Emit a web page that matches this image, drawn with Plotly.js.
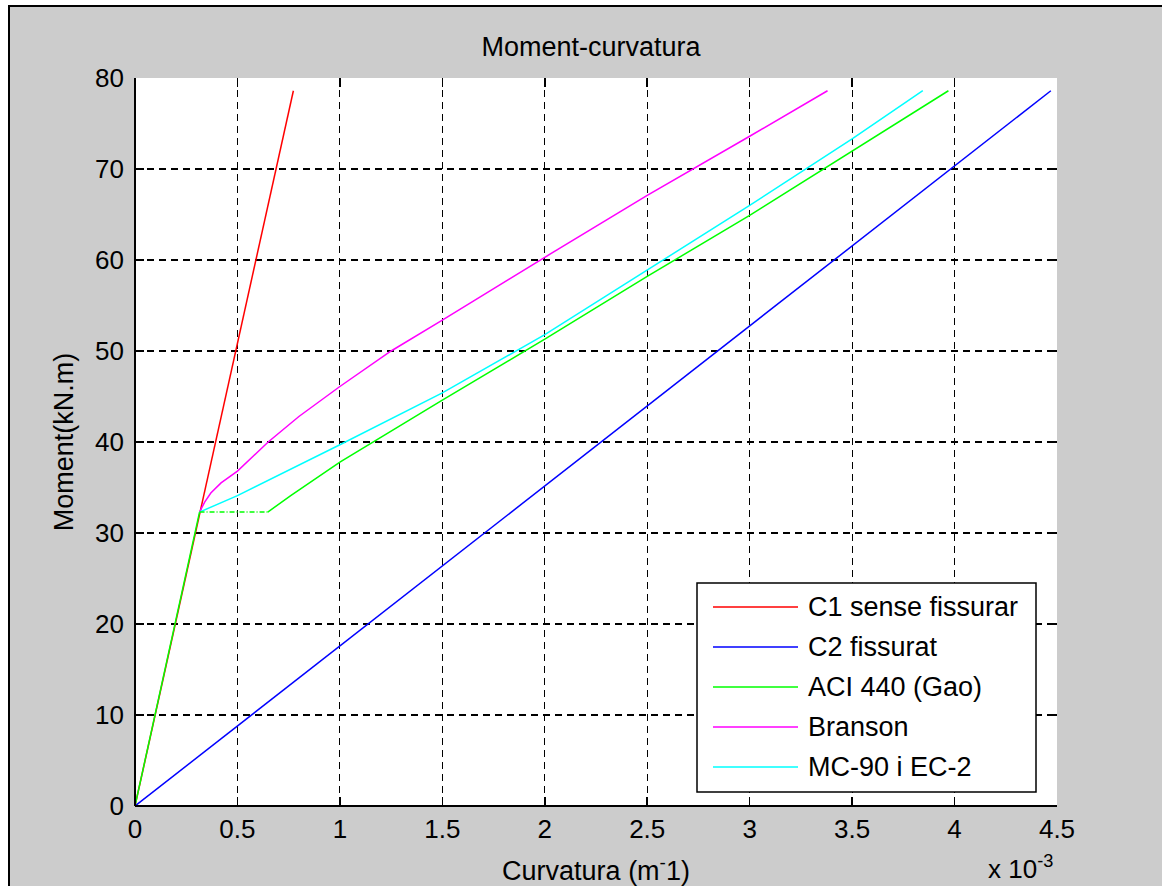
<!DOCTYPE html>
<html><head><meta charset="utf-8">
<script src="https://cdn.plot.ly/plotly-3.0.1.min.js"></script>
<style>
html,body{margin:0;padding:0;background:#fff;overflow:hidden;width:1162px;height:886px;}
#chart{position:absolute;left:8px;top:5px;width:1152px;height:879px;border-top:2px solid #000;border-left:2px solid #000;}
</style></head><body><div id="chart"></div>
<script>
// Curvature in units of 1e-3 m^-1, moment in kN.m
const seriesNames = ['C1 sense fissurar', 'C2 fissurat', 'ACI 440 (Gao)', 'Branson', 'MC-90 i EC-2'];
const seriesColors = ['#ff0000', '#0000ff', '#00ff00', '#ff00ff', '#00ffff'];

const c1X = [0, 0.773];
const c1Y = [0, 78.6];

const c2X = [0, 4.47];
const c2Y = [0, 78.6];

const aciX = [0, 0.315, null, 0.648, 0.76, 1.0, 1.5, 2.0, 2.5, 3.0, 3.5, 3.97];
const aciY = [0, 32.3, null, 32.3, 34.1, 37.8, 44.6, 51.3, 58.2, 64.9, 72.0, 78.6];
const aciFlatX = [0.315, 0.648];
const aciFlatY = [32.3, 32.3];

const bransonX = [0.315, 0.34, 0.37, 0.42, 0.5, 0.65, 0.8, 1.0, 1.25, 1.5, 2.0, 2.5, 3.0, 3.38];
const bransonY = [32.3, 33.4, 34.4, 35.5, 36.8, 40.0, 42.8, 46.1, 50.0, 53.4, 60.3, 67.1, 73.6, 78.6];

const mcX = [0.315, 0.5, 1.0, 1.5, 2.0, 2.5, 3.0, 3.5, 3.845];
const mcY = [32.3, 34.1, 39.7, 45.4, 51.8, 58.9, 66.0, 73.3, 78.6];

const xTickVals = [0, 0.5, 1, 1.5, 2, 2.5, 3, 3.5, 4, 4.5];
const yTickVals = [0, 10, 20, 30, 40, 50, 60, 70, 80];

const FONT = 'Liberation Sans, Arial, sans-serif';
const LW = 1.5;

function tr(x, y, i, extra) {
  return Object.assign({
    x: x, y: y, type: 'scatter', mode: 'lines', name: seriesNames[i],
    line: {color: seriesColors[i], width: LW}, connectgaps: false, hoverinfo: 'skip'
  }, extra || {});
}

const traces = [
  tr(c1X, c1Y, 0),
  tr(c2X, c2Y, 1),
  tr(aciX, aciY, 2),
  tr(bransonX, bransonY, 3),
  tr(mcX, mcY, 4),
  tr(aciFlatX, aciFlatY, 2, {line: {color: seriesColors[2], width: LW, dash: '5px,2px,1px,2px'}, showlegend: false})
];

// pixel -> paper helpers (plot area 135..1057 x, 78..806 y in page pixels)
const PL = 135, PR = 1057, PT = 78, PB = 806;
const px = v => (v - PL) / (PR - PL);
const py = v => (PB - v) / (PB - PT);

const shapes = [
  {type: 'line', xref: 'paper', yref: 'paper', x0: 0, x1: 0, y0: 0, y1: 1, line: {color: '#000', width: 2}},
  {type: 'line', xref: 'paper', yref: 'paper', x0: 0, x1: 1, y0: 0, y1: 0, line: {color: '#000', width: 2}},
  {type: 'rect', xref: 'paper', yref: 'paper', x0: px(697), x1: px(1036), y0: py(792), y1: py(583),
   fillcolor: '#fff', line: {color: '#000', width: 1.5}}
];
const annotations = [
  {xref: 'paper', yref: 'paper', x: px(1020), y: py(868), xanchor: 'center', yanchor: 'middle',
   text: 'x 10<sup>-3</sup>', showarrow: false, font: {family: FONT, size: 26, color: '#000'}}
];
seriesNames.forEach((n, i) => {
  const yc = 607 + i * 40;
  shapes.push({type: 'line', xref: 'paper', yref: 'paper', x0: px(713), x1: px(798), y0: py(yc), y1: py(yc),
    line: {color: seriesColors[i], width: LW}});
  annotations.push({xref: 'paper', yref: 'paper', x: px(806), y: py(yc), xanchor: 'left', yanchor: 'middle',
    text: n, showarrow: false, font: {family: FONT, size: 27, color: '#000'}});
});

const axisCommon = {
  ticks: 'inside', ticklen: 9, tickwidth: 1.5, tickcolor: '#000', mirror: 'ticks',
  showline: false, zeroline: false, showgrid: true, gridcolor: '#000', gridwidth: 1.2,
  griddash: '7px,5px', tickfont: {family: FONT, size: 26, color: '#000'}, tickmode: 'array'
};

const layout = {
  width: 1152, height: 879,
  margin: {l: 125, r: 105, t: 71, b: 80},
  paper_bgcolor: '#cccccc', plot_bgcolor: '#ffffff',
  showlegend: false,
  font: {family: FONT, color: '#000'},
  title: {text: 'Moment-curvatura', font: {family: FONT, size: 27, color: '#000'},
    xref: 'container', x: (591 - 10) / 1152, xanchor: 'center',
    yref: 'container', y: 1 - (47 - 7) / 879, yanchor: 'middle'},
  xaxis: Object.assign({}, axisCommon, {range: [0, 4.5], tickvals: xTickVals, ticktext: xTickVals.map(String),
    ticklabelstandoff: 5,
    title: {text: 'Curvatura (m<sup>-</sup>1)', font: {family: FONT, size: 27, color: '#000'}, standoff: 20}}),
  yaxis: Object.assign({}, axisCommon, {range: [0, 80], tickvals: yTickVals, ticktext: yTickVals.map(String),
    ticklabelstandoff: 10,
    title: {text: 'Moment(kN.m)', font: {family: FONT, size: 27, color: '#000'}, standoff: 13}}),
  shapes: shapes,
  annotations: annotations
};

Plotly.newPlot('chart', traces, layout, {displayModeBar: false, staticPlot: true});
</script></body></html>
